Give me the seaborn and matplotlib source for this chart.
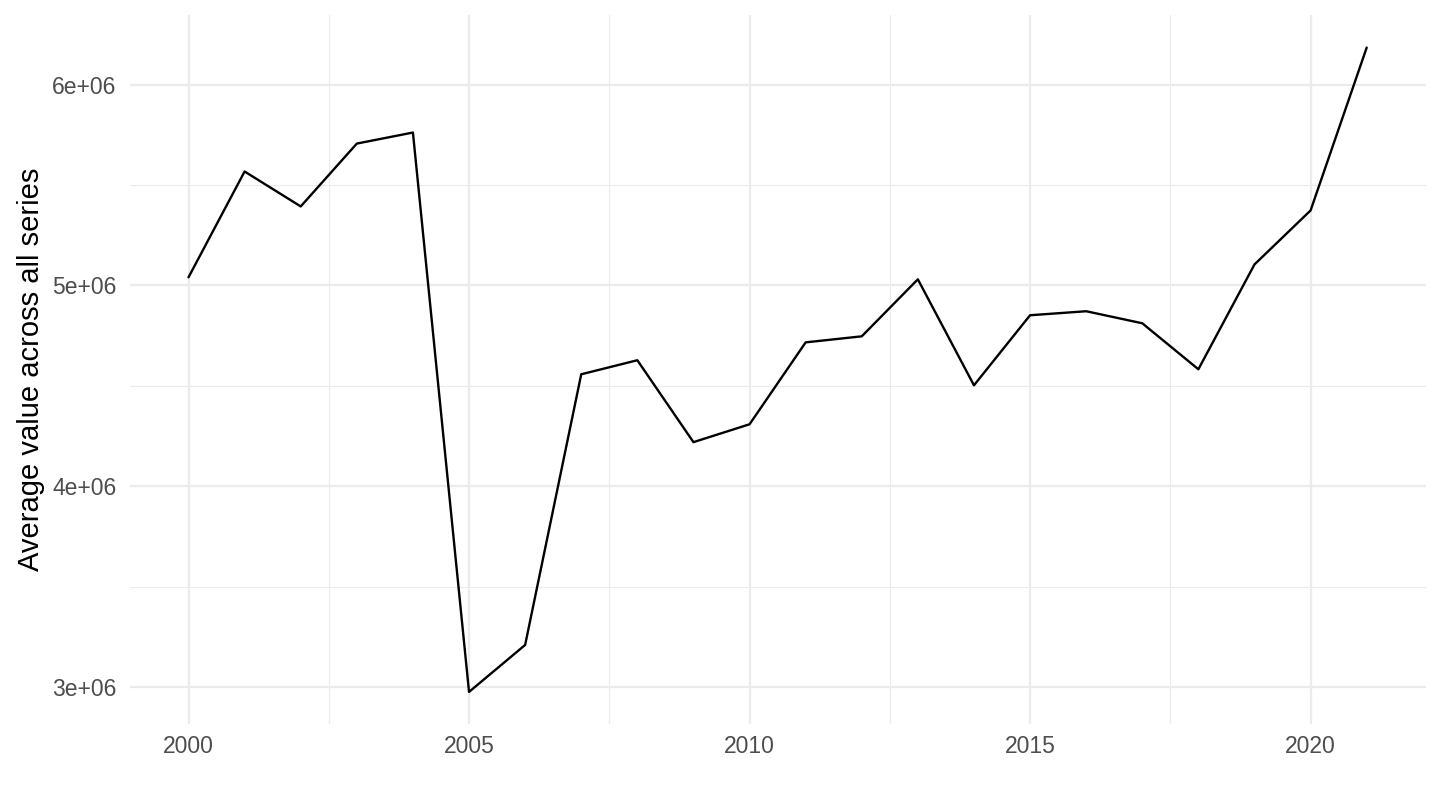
import numpy as np
import pandas as pd
import seaborn as sns
import matplotlib.pyplot as plt
from matplotlib.ticker import FixedLocator, FuncFormatter

# Data
years = list(range(2000, 2022))
avg_values = [5.040e6, 5.567e6, 5.393e6, 5.706e6, 5.761e6, 2.975e6, 3.209e6,
              4.557e6, 4.627e6, 4.219e6, 4.308e6, 4.716e6, 4.746e6, 5.030e6,
              4.502e6, 4.851e6, 4.871e6, 4.811e6, 4.582e6, 5.104e6, 5.373e6,
              6.184e6]
x_ticks = [2000, 2005, 2010, 2015, 2020]
y_ticks = [3e6, 4e6, 5e6, 6e6]
y_tick_labels = ['3e+06', '4e+06', '5e+06', '6e+06']

df = pd.DataFrame({'year': years, 'value': avg_values})

sns.set_theme(style='white')
plt.rcParams['font.family'] = ['Liberation Sans', 'DejaVu Sans']

fig = plt.figure(figsize=(14.4, 8.1), dpi=100)
ax = fig.add_axes([0.09, 0.106, 0.90, 0.875])

sns.lineplot(data=df, x='year', y='value', color='black', linewidth=1.7, ax=ax)

# ggplot-like 5% expansion
xr = max(years) - min(years)
ax.set_xlim(min(years) - 0.05 * xr, max(years) + 0.05 * xr)
yr = max(avg_values) - min(avg_values)
ax.set_ylim(min(avg_values) - 0.05 * yr, max(avg_values) + 0.05 * yr)

ax.xaxis.set_major_locator(FixedLocator(x_ticks))
ax.xaxis.set_minor_locator(FixedLocator([t + 2.5 for t in x_ticks[:-1]] + [1997.5, 2022.5]))
ax.yaxis.set_major_locator(FixedLocator(y_ticks))
ax.yaxis.set_minor_locator(FixedLocator([t + 0.5e6 for t in y_ticks]))
ax.yaxis.set_major_formatter(FuncFormatter(lambda v, p: y_tick_labels[y_ticks.index(v)] if v in y_ticks else ''))

ax.grid(which='major', color='#EBEBEB', linewidth=1.6)
ax.grid(which='minor', color='#EBEBEB', linewidth=0.8)
ax.set_axisbelow(True)
for s in ax.spines.values():
    s.set_visible(False)

ax.tick_params(which='both', length=0, labelsize=16.5, labelcolor='#4D4D4D')
ax.tick_params(axis='x', pad=8)
ax.tick_params(axis='y', pad=9.5)
ax.set_xlabel('')
ax.set_ylabel('Average value across all series', fontsize=21, color='black', labelpad=5)

fig.savefig('out.png', dpi=100)
